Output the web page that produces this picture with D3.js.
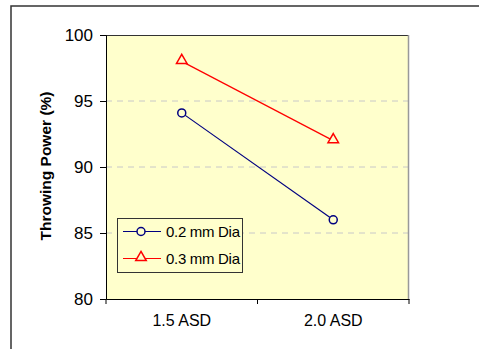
<!DOCTYPE html>
<html>
<head>
<meta charset="utf-8">
<script src="https://cdn.jsdelivr.net/npm/d3@7"></script>
<style>
  body { margin: 0; background: #fff; overflow: hidden; }
  svg { display: block; font-family: Arial, "Liberation Sans", sans-serif; }
</style>
</head>
<body>
<div id="chart"></div>
<script>
// Data
const categories = ['1.5 ASD', '2.0 ASD'];
const seriesNames = ['0.2 mm Dia', '0.3 mm Dia'];
const dia02 = [94.1, 86];
const dia03 = [98, 92];
const yTicks = [80, 85, 90, 95, 100];
const gridTicks = [85, 90, 95];

const W = 479, H = 349;
const margin = { top: 35, right: 70, bottom: 50, left: 106 };
const width = W - margin.left - margin.right;
const height = H - margin.top - margin.bottom;

const svg = d3.select('#chart').append('svg')
  .attr('width', W)
  .attr('height', H);

// outer frame
svg.append('rect')
  .attr('x', 11).attr('y', 6)
  .attr('width', 600).attr('height', 600)
  .attr('fill', 'none')
  .attr('stroke', '#333')
  .attr('stroke-width', 1.5);

const g = svg.append('g')
  .attr('transform', `translate(${margin.left},${margin.top})`);

// Scales
const x = d3.scaleBand().domain(categories).range([0, width]);
const y = d3.scaleLinear().domain([80, 100]).range([height, 0]);

// plot background
g.append('rect')
  .attr('width', width).attr('height', height)
  .attr('fill', '#ffffcc');

// gridlines
g.selectAll('.grid')
  .data(gridTicks)
  .join('line')
  .attr('class', 'grid')
  .attr('x1', 0).attr('x2', width)
  .attr('y1', d => y(d)).attr('y2', d => y(d))
  .attr('stroke', '#c8c8c8')
  .attr('stroke-dasharray', '6,5');

// plot border top / right
g.append('line')
  .attr('x1', 0).attr('x2', width).attr('y1', 0.5).attr('y2', 0.5)
  .attr('stroke', '#333');
g.append('line')
  .attr('x1', width - 0.5).attr('x2', width - 0.5).attr('y1', 0).attr('y2', height)
  .attr('stroke', '#999')
  .attr('stroke-width', 1.5);

// Axes
const yAxisG = g.append('g')
  .call(d3.axisLeft(y).tickValues(yTicks).tickSize(6).tickPadding(7));
const xAxisG = g.append('g')
  .attr('transform', `translate(0,${height})`)
  .call(d3.axisBottom(x).tickSize(0).tickPadding(16));

yAxisG.select('.domain').attr('stroke', '#000');
yAxisG.selectAll('.tick text').attr('font-size', 17).attr('fill', '#000')
  .attr('font-family', 'Arial, "Liberation Sans", sans-serif');
xAxisG.select('.domain').attr('stroke', '#000');
xAxisG.selectAll('.tick text').attr('font-size', 16).attr('fill', '#000')
  .attr('font-family', 'Arial, "Liberation Sans", sans-serif');

// x ticks at band boundaries
const bounds = [0, x.step(), width];
xAxisG.selectAll('.bound')
  .data(bounds)
  .join('line')
  .attr('class', 'bound')
  .attr('x1', d => d).attr('x2', d => d)
  .attr('y1', 0).attr('y2', 5)
  .attr('stroke', '#000');

// y axis title
svg.append('text')
  .attr('transform', `translate(51,${margin.top + height / 2 - 1}) rotate(-90)`)
  .attr('text-anchor', 'middle')
  .attr('font-size', 15.5)
  .attr('font-weight', 'bold')
  .text('Throwing Power (%)');

const cx = c => x(c) + x.bandwidth() / 2;
const line = d3.line()
  .x((d, i) => cx(categories[i]))
  .y(d => y(d));

const series = [
  { name: seriesNames[0], values: dia02, color: '#000080', marker: 'circle' },
  { name: seriesNames[1], values: dia03, color: '#ff0000', marker: 'triangle' }
];

const tri = d3.symbol().type(d3.symbolTriangle).size(48);

function drawMarker(sel, s) {
  if (s.marker === 'circle') {
    sel.append('circle').attr('r', 4)
      .attr('fill', '#ffffcc').attr('stroke', s.color).attr('stroke-width', 1.5);
  } else {
    sel.append('path').attr('d', tri).attr('transform', 'translate(0,-1)')
      .attr('fill', '#ffffcc').attr('stroke', s.color).attr('stroke-width', 1.5);
  }
}

series.forEach(s => {
  g.append('path')
    .datum(s.values)
    .attr('d', line)
    .attr('fill', 'none')
    .attr('stroke', s.color)
    .attr('stroke-width', 1.2);
  s.values.forEach((v, i) => {
    const m = g.append('g')
      .attr('transform', `translate(${cx(categories[i])},${y(v)})`);
    drawMarker(m, s);
  });
});

// legend
const legend = svg.append('g').attr('transform', 'translate(117,218)');
legend.append('rect')
  .attr('x', 0.5).attr('y', 0.5)
  .attr('width', 125).attr('height', 54)
  .attr('fill', '#ffffcc')
  .attr('stroke', '#333');

series.forEach((s, i) => {
  const row = legend.append('g').attr('transform', `translate(0,${13.5 + i * 27})`);
  row.append('line')
    .attr('x1', 6).attr('x2', 44)
    .attr('stroke', s.color).attr('stroke-width', 1.2);
  const m = row.append('g').attr('transform', 'translate(24,0)');
  drawMarker(m, s);
  row.append('text')
    .attr('x', 49).attr('dy', '0.35em')
    .attr('font-size', 15)
    .attr('letter-spacing', '-0.3')
    .text(s.name);
});
</script>
</body>
</html>
